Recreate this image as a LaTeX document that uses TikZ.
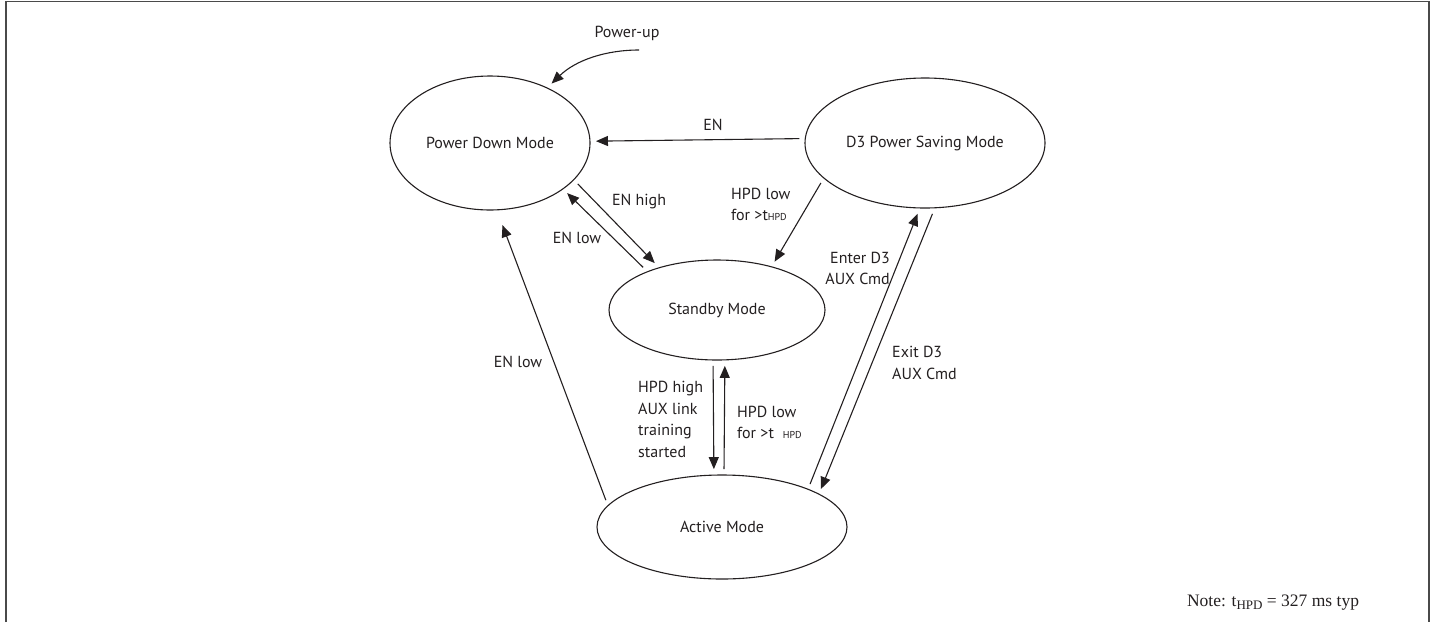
\documentclass[tikz,border=0pt]{standalone}
\usepackage{fontspec}
\setmainfont{PT Sans}
\newfontfamily\notefont{Liberation Serif}
\usetikzlibrary{shapes.geometric,arrows.meta}
\definecolor{ink}{HTML}{231F20}
\definecolor{frame}{HTML}{4A4A4A}
\newcommand{\smallhpd}{{\fontsize{10}{10}\selectfont HPD}}
\begin{document}
\begin{tikzpicture}[x=1pt,y=1pt,
  state/.style={ellipse,draw=ink,text=ink,line width=1.1pt,inner sep=0pt,outer sep=6pt,
                font=\fontsize{16}{19}\selectfont},
  conn/.style={draw=ink,line width=1.1pt,-{Triangle[length=12pt,width=10pt]}},
  lbl/.style={text=ink,font=\fontsize{16}{21.5}\selectfont,inner sep=0pt},
]
\useasboundingbox (0,0) rectangle (1435,-622);
\draw[frame,line width=1.6pt] (6,-622) -- (6,-1.5) -- (1429,-1.5) -- (1429,-622);

% states
\node[state,minimum width=200pt,minimum height=134pt] (pd) at (490,-143) {Power Down Mode};
\node[state,minimum width=240pt,minimum height=130pt] (d3) at (925,-143) {D3 Power Saving Mode};
\node[state,minimum width=216pt,minimum height=100pt] (sb) at (717,-310) {Standby Mode};
\node[state,minimum width=250pt,minimum height=104pt] (ac) at (722,-527) {Active Mode};

% power-up
\coordinate (pu) at (639,-50);
\node[lbl] (pul) at (627,-33) {Power-up};
\draw[conn] (pu) .. controls (606,-50) and (576,-60) .. (pd.44.5);

% EN
\draw[conn] (d3.178.6) -- (pd.1.6);
\node[lbl] (enl) at (713,-125) {EN};

% EN high / EN low
\draw[conn] (pd.-25.5) -- (sb.143.3);
\draw[conn] (sb.150.8) -- (pd.-33);
\node[lbl] (enh) at (639,-202) {EN high};
\node[lbl] (enlo) at (577,-238) {EN low};

% HPD low from D3
\draw[conn] (d3.201) -- (sb.40.8);
\node[lbl,anchor=west,align=left] (hpd1) at (731,-204.5) {HPD low\\for >t\smallhpd};

% Standby <-> Active
\draw[conn] (sb.-94.4) -- (ac.98);
\draw[conn] (ac.88.2) -- (sb.-82.3);
\node[lbl,anchor=west,align=left] (hpdh) at (638,-419.5) {HPD high\\AUX link\\training\\started};
\node[lbl,anchor=west,align=left] (hpd2) at (737,-422.5) {HPD low\\for >t\hspace{9pt}\smallhpd};

% Active -> Power Down
\draw[conn,shorten >=10pt] (ac.167.2) -- (pd.-83);
\node[lbl] (enlong) at (518,-362) {EN low};

% D3 <-> Active
\draw[conn] (ac.26.8) -- (d3.-96);
\draw[conn] (d3.-84.3) -- (ac.21.8);
\node[lbl,anchor=east,align=right] (ent) at (890,-268.5) {Enter D3\\AUX Cmd};
\node[lbl,anchor=west,align=left] (ext) at (892,-363) {Exit D3\\AUX Cmd};

% note
\node[text=ink,inner sep=0pt,font=\notefont\fontsize{17.5}{20}\selectfont] (note) at (1273,-603)
  {Note: t\raisebox{-3pt}{\fontsize{13}{14}\selectfont HPD} = 327 ms typ};
\end{tikzpicture}
\end{document}
